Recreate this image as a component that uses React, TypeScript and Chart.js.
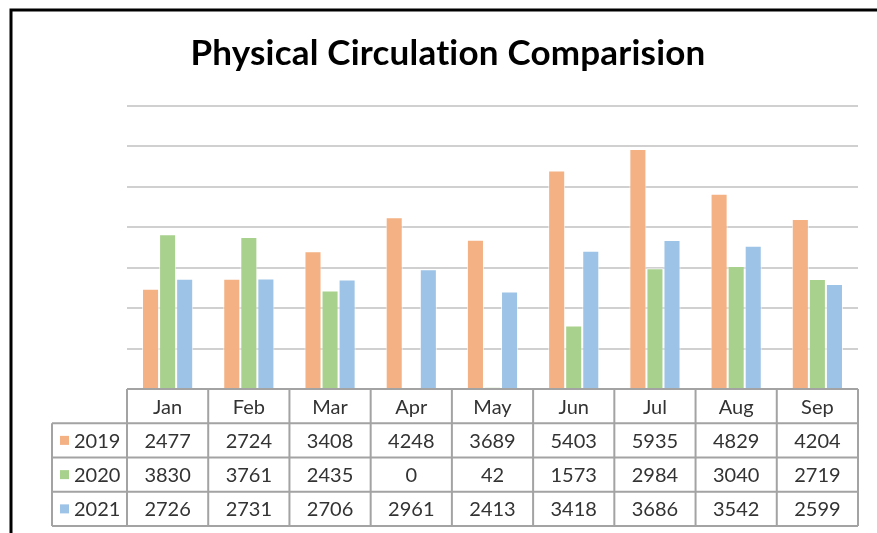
import React, { useEffect, useRef } from "react";
import { Chart, registerables } from "chart.js";

Chart.register(...registerables);

const TITLE = "Physical Circulation Comparision";
const MONTHS = ["Jan", "Feb", "Mar", "Apr", "May", "Jun", "Jul", "Aug", "Sep"];
const SERIES_LABELS = ["2019", "2020", "2021"];
const V2019 = [2477, 2724, 3408, 4248, 3689, 5403, 5935, 4829, 4204];
const V2020 = [3830, 3761, 2435, 0, 42, 1573, 2984, 3040, 2719];
const V2021 = [2726, 2731, 2706, 2961, 2413, 3418, 3686, 3542, 2599];
const COLORS = ["#F4B183", "#A9D18E", "#9DC3E6"];
const Y_MAX = 7000;
const Y_STEP = 1000;

const SERIES = [V2019, V2020, V2021];

const W = 877;
const H = 533;

const framePlugin = {
  id: "frameTitleTable",
  beforeDraw(chart: any) {
    const ctx = chart.ctx;
    ctx.save();
    ctx.fillStyle = "#ffffff";
    ctx.fillRect(0, 0, chart.width, chart.height);
    ctx.restore();
  },
  afterDraw(chart: any) {
    const ctx = chart.ctx;
    const area = chart.chartArea;
    const xs = chart.scales.x;
    const n = MONTHS.length;
    const catW = (area.right - area.left) / n;
    ctx.save();

    // frame
    ctx.strokeStyle = "#000000";
    ctx.lineWidth = 3;
    ctx.beginPath();
    ctx.moveTo(11, H + 2);
    ctx.lineTo(11, 10);
    ctx.lineTo(W + 2, 10);
    ctx.stroke();

    // title
    ctx.fillStyle = "#000000";
    ctx.font = "bold 35px Lato";
    try { (ctx as any).letterSpacing = "0.2px"; } catch (e) {}
    ctx.textAlign = "center";
    ctx.textBaseline = "middle";
    ctx.fillText(TITLE, 448, 54);
    try { (ctx as any).letterSpacing = "0px"; } catch (e) {}

    // data table
    const top = area.bottom;
    const rowH = 34.25;
    const leftCol = 52;
    const right = area.right;
    ctx.strokeStyle = "#a3a3a3";
    ctx.lineWidth = 2;
    ctx.beginPath();
    ctx.moveTo(area.left, top);
    ctx.lineTo(right, top);
    for (let r = 1; r <= 4; r++) {
      ctx.moveTo(leftCol, top + r * rowH);
      ctx.lineTo(right, top + r * rowH);
    }
    ctx.moveTo(leftCol, top + rowH);
    ctx.lineTo(leftCol, top + 4 * rowH);
    for (let i = 0; i <= n; i++) {
      const x = i < n ? xs.getPixelForValue(i) - catW / 2 : xs.getPixelForValue(n - 1) + catW / 2;
      ctx.moveTo(x, top);
      ctx.lineTo(x, top + 4 * rowH);
    }
    ctx.stroke();

    ctx.fillStyle = "#333333";
    ctx.font = "20px Lato";
    ctx.textAlign = "center";
    ctx.textBaseline = "middle";
    for (let i = 0; i < n; i++) {
      const cx = xs.getPixelForValue(i);
      ctx.fillText(MONTHS[i], cx, top + rowH / 2 + 1);
      for (let s = 0; s < SERIES.length; s++) {
        ctx.fillText(String(SERIES[s][i]), cx, top + (s + 1) * rowH + rowH / 2 + 1);
      }
    }
    ctx.textAlign = "left";
    for (let s = 0; s < SERIES.length; s++) {
      const cy = top + (s + 1) * rowH + rowH / 2;
      ctx.fillStyle = COLORS[s];
      ctx.fillRect(60, cy - 4.5, 9, 9);
      ctx.fillStyle = "#333333";
      ctx.fillText(SERIES_LABELS[s], 74, cy + 1);
    }
    ctx.restore();
  },
};

export default function App() {
  const ref = useRef<HTMLCanvasElement | null>(null);
  useEffect(() => {
    if (!ref.current) return;
    const chart = new Chart(ref.current, {
      type: "bar",
      data: {
        labels: MONTHS,
        datasets: SERIES.map((vals, i) => ({
          label: SERIES_LABELS[i],
          data: vals,
          backgroundColor: COLORS[i],
          borderColor: "rgba(255,255,255,0.7)",
          borderWidth: 1,
          categoryPercentage: 0.63,
          barPercentage: 1,
        })),
      },
      options: {
        responsive: false,
        animation: false,
        layout: { padding: { left: 127, right: 19, top: 106, bottom: 144 } },
        plugins: {
          legend: { display: false },
          title: { display: false },
          tooltip: { enabled: false },
        },
        scales: {
          x: {
            ticks: { display: false },
            grid: { display: false, drawTicks: false },
            border: { display: false },
          },
          y: {
            min: 0,
            max: Y_MAX,
            ticks: { display: false, stepSize: Y_STEP },
            grid: { color: "#d0d0d0", lineWidth: 2, drawTicks: false },
            border: { display: false },
          },
        },
      },
      plugins: [framePlugin],
    });
    return () => chart.destroy();
  }, []);
  return (
    <div style={{ position: "fixed", left: 0, top: 0, width: W, height: H, background: "#fff" }}>
      <canvas ref={ref} width={W} height={H} style={{ display: "block" }} />
    </div>
  );
}
